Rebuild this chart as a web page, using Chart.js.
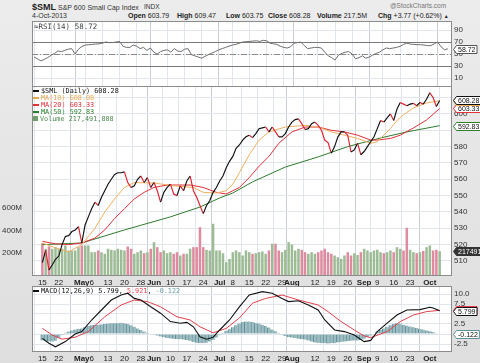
<!DOCTYPE html>
<html><head><meta charset="utf-8">
<script src="https://cdn.jsdelivr.net/npm/chart.js@4.4.0/dist/chart.umd.min.js"></script>
<style>
body{margin:0;width:480px;height:363px;overflow:hidden;background:linear-gradient(#ececec,#dedede);font-family:Arial,"Liberation Sans",sans-serif;position:relative}
canvas{position:absolute;left:0}
.t{position:absolute;white-space:nowrap;color:#222;line-height:1}
.lg{position:absolute;white-space:nowrap;font-family:"DejaVu Sans Mono",monospace;font-size:6.8px;line-height:1}
.sw{display:inline-block;width:6px;height:2px;vertical-align:middle;margin-right:2px}
</style></head><body>

<div class="t" style="left:32px;top:3px;font-size:9px;font-weight:bold">$SML</div>
<div class="t" style="left:58px;top:4px;font-size:7px;color:#333">S&amp;P 600 Small Cap Index</div>
<div class="t" style="left:144px;top:4px;font-size:6.5px;color:#333">INDX</div>
<div class="t" style="left:390px;top:3px;font-size:6.5px;color:#777">@StockCharts.com</div>
<div class="t" style="left:32px;top:12px;font-size:7px;color:#333">4-Oct-2013</div>
<div class="t" style="left:128px;top:12px;font-size:7px"><b>Open</b> 603.79</div>
<div class="t" style="left:177px;top:12px;font-size:7px"><b>High</b> 609.47</div>
<div class="t" style="left:226px;top:12px;font-size:7px"><b>Low</b> 603.75</div>
<div class="t" style="left:268px;top:12px;font-size:7px"><b>Close</b> 608.28</div>
<div class="t" style="left:317px;top:12px;font-size:7px"><b>Volume</b> 217.5M</div>
<div class="t" style="left:378px;top:12px;font-size:7px"><b>Chg</b> +3.77 (+0.62%) <span style="font-size:5px">&#9650;</span></div>

<canvas id="rsi" width="480" height="66" style="top:21px"></canvas>
<canvas id="main" width="480" height="204" style="top:86px"></canvas>
<canvas id="macd" width="480" height="77" style="top:286px"></canvas>

<div class="lg" style="left:34px;top:23px;font-size:7.5px;color:#444">&#8776;RSI(14) 58.72</div>
<div class="lg" style="left:33px;top:88px;color:#111"><span class="sw" style="background:#111"></span>$SML (Daily) 608.28</div>
<div class="lg" style="left:33px;top:95px;color:#e9a94f"><span class="sw" style="background:#e9a94f"></span>MA(10) 608.08</div>
<div class="lg" style="left:33px;top:102px;color:#e3303a"><span class="sw" style="background:#e3303a"></span>MA(20) 603.33</div>
<div class="lg" style="left:33px;top:109px;color:#2f7d2f"><span class="sw" style="background:#2f7d2f"></span>MA(50) 592.83</div>
<div class="lg" style="left:33px;top:116px;color:#4f8a4f"><span style="display:inline-block;width:5px;height:5px;background:#6f9f6a;margin-right:2px"></span>Volume 217,491,808</div>
<div class="lg" style="left:33px;top:288px;color:#111"><span class="sw" style="background:#111"></span>MACD(12,26,9) 5.799, <span style="color:#e5404d">5.921</span>, <span style="color:#6aa0a8">-0.122</span></div>

<script>
// x axis: trading days 15-Apr-2013 .. 4-Oct-2013 (index 0..121)
const tickDays = [0, 5, 12, 15, 20, 25, 30, 34, 39, 44, 49, 54, 58, 63, 68, 73, 76, 83, 88, 93, 98, 102, 107, 112, 118];
const tickText = ['15', '22', 'May', '6', '13', '20', '28', 'Jun', '10', '17', '24', 'Jul', '8', '15', '22', '29', 'Aug', '12', '19', '26', 'Sep', '9', '16', '23', 'Oct'];

const closes = [
  509, 516.5, 504.5, 507.5, 511, 513, 520, 525, 525.5, 528,
  529, 531, 521, 532, 537, 542, 546, 544, 549, 553,
  557, 560, 563, 564, 564, 564.5, 558, 555, 556, 560,
  562, 558, 561, 555, 558, 553, 546, 552, 555, 557,
  551, 550, 556, 553, 559, 562, 553, 549, 544, 539,
  544, 547, 552, 555, 559, 562, 567, 571, 574, 579,
  581, 584, 586, 587, 585.5, 588, 591, 591.5, 592, 589,
  592, 589, 586, 586, 588, 592, 595, 596.5, 597, 594,
  590.5, 591, 594, 595, 593, 590, 584, 582.5, 576, 580,
  586, 589, 589, 587, 576.7, 578, 582, 575, 577, 580,
  583, 586, 591, 596, 595, 597.6, 600, 596, 603, 607,
  606, 605, 606, 606.5, 605, 607, 606, 609, 613, 610,
  604.51, 608.28
];

// volume in millions
const volume = [
  288, 239, 259, 239, 253, 239, 239, 268, 224, 224,
  224, 253, 268, 268, 268, 209, 209, 224, 209, 195,
  239, 230, 224, 239, 230, 224, 259, 239, 195, 209,
  224, 200, 209, 239, 297, 253, 209, 224, 200, 209,
  195, 209, 180, 195, 195, 239, 253, 253, 428, 253,
  230, 224, 458, 224, 224, 200, 121, 150, 209, 224,
  209, 180, 224, 209, 195, 200, 209, 215, 195, 224,
  283, 283, 224, 209, 230, 297, 277, 224, 239, 230,
  209, 195, 209, 195, 209, 224, 239, 209, 195, 180,
  165, 151, 180, 209, 180, 200, 185, 209, 239, 224,
  209, 224, 230, 209, 200, 209, 224, 209, 253, 239,
  224, 423, 230, 209, 200, 209, 220, 253, 268, 224,
  230, 217.49
];

const ma10Days = [0, 4, 8, 12, 16, 19, 22, 25, 28, 34, 40, 46, 49, 53, 56, 58, 60, 63, 66, 69, 74, 80, 84, 88, 92, 96, 100, 102, 104, 106, 108, 110, 113, 117, 121];
const ma10 = [521, 518, 515.5, 520, 530, 540, 548, 555, 558, 557.7, 556, 555, 552, 551.6, 553, 557, 564, 575, 584, 589, 592, 593, 592, 589, 587, 585, 582, 583, 587, 591, 596, 599.5, 603.7, 606.7, 608.08];

const ma20Days = [0, 4, 8, 12, 16, 19, 22, 25, 28, 31, 34, 38, 45, 49, 53, 56, 58, 60, 63, 66, 69, 72, 76, 80, 84, 88, 92, 96, 100, 102, 106, 109, 113, 117, 121];
const ma20 = [522, 520.5, 520, 521, 524, 529, 536, 542, 548, 552, 555, 556.5, 556.5, 555, 552, 551, 553, 555, 561, 568, 574, 582, 589, 592, 592, 590, 589, 587, 584, 584, 585, 587, 591.4, 596.3, 603.33];

const ma50Days = [0, 12, 25, 39, 48, 54, 58, 64, 74, 84, 93, 103, 111, 121];
const ma50 = [520, 521, 529, 537, 543, 548.6, 551.6, 558.4, 567.5, 573.7, 580, 585.3, 589, 592.83];

const rsi = [
  45, 42, 38.5, 41, 44, 48, 51, 55, 54, 56,
  58, 59, 50, 58, 62.7, 65, 65.5, 66, 66.6, 67,
  68, 70, 69, 69, 70, 71, 63, 61, 61, 65,
  63, 59, 61, 56, 60, 53, 50, 54, 56, 57,
  53, 59, 55, 54, 58, 59, 49, 47, 45, 43,
  46, 49, 51.5, 54, 57, 59, 61, 63, 65, 66,
  68, 70, 70.5, 71, 71.5, 72, 71, 72.8, 72, 68,
  67, 66, 63, 61, 60, 62, 68, 69, 70, 64,
  59, 60, 61, 61, 60, 53, 47, 44, 40, 48,
  51, 53, 54, 50, 42, 44, 47, 43, 45, 48,
  51, 53, 57, 60, 59, 60, 61, 62.7, 66, 68,
  66.6, 66, 65.5, 65.5, 65, 64, 64, 67, 70, 62,
  57, 58.72
];

const macdDays = [0, 2, 4, 7, 10, 12, 15, 18, 21, 24, 26, 28, 30, 33, 36, 39, 42, 44, 46, 48, 50, 52, 54, 57, 60, 63, 67, 70, 73, 75, 78, 81, 84, 86, 89, 92, 95, 98, 100, 102, 105, 108, 111, 115, 118, 119, 121];
const macd = [-1.1, -2.3, -3.2, -1.9, 0, 0.6, 3.5, 6, 8.5, 9.75, 10.2, 8.9, 8.5, 6.8, 5.2, 3.1, 2.7, 2.9, 1.8, -0.7, -1.3, -0.8, 1, 3.5, 6.8, 9.75, 10.6, 10.2, 8.9, 8.1, 8.3, 7.25, 6, 3.5, 1, 0.6, -0.25, -1.9, -1.6, 0.6, 2.7, 4.75, 6, 6.1, 6.7, 6.5, 5.799];

const signalDays = [0, 3, 6, 10, 14, 19, 24, 28, 32, 36, 41, 45, 48, 52, 56, 60, 64, 68, 73, 78, 84, 87, 91, 95, 98, 100, 105, 109, 113, 117, 121];
const signal = [1.4, -0.25, -1.3, -0.8, 0.6, 4.3, 7.25, 8.5, 8.1, 6.8, 4.3, 3.5, 1.8, 0.3, 1.4, 4, 7.7, 8.9, 9.75, 8.5, 7.25, 5.6, 3.1, 1, -0.5, -0.9, 0.6, 3.1, 4.75, 5.6, 5.921];

const hist = [
  -1.6, -1.8, -1.9, -1.9, -1.7, -1.0, -0.3, 0.3, 0.6, 0.9,
  1.1, 1.3, 1.4, 1.7, 2.0, 2.2, 2.3, 2.3, 2.4, 2.5,
  2.6, 2.7, 2.7, 2.7, 2.8, 2.7, 2.5, 2.2, 1.8, 1.4,
  1.0, 0.6, 0.3, 0.1, -0.2, -0.4, -0.6, -0.8, -1.0, -1.1,
  -1.2, -1.3, -1.3, -1.4, -1.5, -1.7, -2.0, -2.2, -2.3, -2.3,
  -2.2, -1.9, -1.5, -0.9, -0.3, 0.3, 0.8, 1.2, 1.7, 2.2,
  2.6, 3.0, 3.1, 3.1, 3.0, 2.8, 2.6, 2.3, 2.0, 1.6,
  1.1, 0.7, 0.3, -0.2, -0.5, -0.8, -0.9, -1.0, -1.2, -1.3,
  -1.4, -1.6, -1.9, -2.1, -2.2, -2.3, -2.3, -2.4, -2.3, -2.3,
  -2.1, -2.0, -1.9, -1.8, -1.7, -1.6, -1.6, -1.5, -1.2, -0.8,
  -0.4, 0.1, 0.6, 1.0, 1.4, 1.8, 2.2, 2.5, 2.7, 2.6,
  2.3, 2.1, 1.9, 1.7, 1.5, 1.3, 1.1, 0.9, 0.7, 0.5,
  0.2, -0.122
];

const priceTicks = [510, 520, 530, 540, 550, 560, 570, 580, 590, 600, 610];
const volTicks = [200, 400, 600];
const rsiTicks = [10, 30, 50, 70, 90];
const macdTicks = [-2.5, 0, 2.5, 5, 7.5, 10];

const C = {
  up: '#111111', down: '#e3202c', ma10: '#efb060', ma20: '#e3303a', ma50: '#2f7d2f',
  volUp: '#9dbc96', volDown: '#de8ba0', grid: '#e1e5ec', gridMonth: '#c8cdd6',
  rsi: '#6f6f6f', macd: '#111111', signal: '#e5404d', hist: '#9dbdc2', histEdge: '#5f8f97'
};

const xy = (days, vals) => vals.map((v, i) => ({ x: days[i], y: v }));
const daily = vals => vals.map((v, i) => ({ x: i, y: v }));
const isMonth = v => /[A-Za-z]/.test(tickText[tickDays.indexOf(v)] || '');

const xAxis = (showLabels, h) => ({
  type: 'linear', min: -0.6, max: 122.2,
  afterBuildTicks: ax => { ax.ticks = tickDays.map(v => ({ value: v })); },
  afterFit: ax => { ax.height = h; ax.paddingLeft = 0; ax.paddingRight = 0; },
  ticks: {
    display: showLabels, autoSkip: false, maxRotation: 0, padding: 2, color: '#222',
    font: ctx => ({ family: 'Arial', size: 8, weight: ctx.tick && isMonth(ctx.tick.value) ? 'bold' : 'normal' }),
    callback: (v, i) => tickText[i]
  },
  grid: { drawTicks: false, color: ctx => ctx.tick && isMonth(ctx.tick.value) ? C.gridMonth : C.grid },
  border: { display: false }
});

const yRight = (min, max, ticks, fmt, w) => ({
  position: 'right', min, max,
  afterBuildTicks: ax => { ax.ticks = ticks.map(v => ({ value: v })); },
  afterFit: ax => { ax.width = w; ax.paddingTop = 0; ax.paddingBottom = 0; },
  ticks: { padding: 2, color: '#333', font: { family: 'Arial', size: 8 }, callback: fmt },
  grid: { drawTicks: false, color: C.grid },
  border: { display: false }
});

const framePlugin = {
  id: 'frame',
  beforeDraw(chart) {
    const a = chart.chartArea, c = chart.ctx;
    c.save(); c.fillStyle = '#fff';
    c.fillRect(a.left, a.top, a.right - a.left, a.bottom - a.top);
    c.restore();
  },
  afterDraw(chart) {
    const a = chart.chartArea, c = chart.ctx;
    c.save(); c.strokeStyle = '#8c8c8c'; c.lineWidth = 1;
    c.strokeRect(a.left + 0.5, a.top + 0.5, a.right - a.left - 1, a.bottom - a.top - 1);
    c.restore();
  }
};

// last-value tags on the right axis
const tags = items => ({
  id: 'tags',
  afterDraw(chart) {
    const c = chart.ctx, a = chart.chartArea;
    c.save();
    c.font = '7px Arial';
    items.forEach(it => {
      const y = Math.round(chart.scales[it.axis].getPixelForValue(it.value)) + 0.5;
      const x = a.right + 1.5, h = 8;
      const w = c.measureText(it.text).width + 3;
      c.beginPath();
      c.moveTo(x, y); c.lineTo(x + 3, y - h / 2); c.lineTo(x + 3 + w, y - h / 2);
      c.lineTo(x + 3 + w, y + h / 2); c.lineTo(x + 3, y + h / 2); c.closePath();
      c.fillStyle = it.fill || '#fff'; c.fill();
      c.strokeStyle = it.color; c.lineWidth = 1; c.stroke();
      c.fillStyle = it.textColor || '#111'; c.textBaseline = 'middle';
      c.fillText(it.text, x + 4.5, y + 0.5);
    });
    c.restore();
  }
});

const baseOpts = {
  responsive: false, animation: false, devicePixelRatio: 1,
  plugins: { legend: { display: false }, tooltip: { enabled: false } },
  elements: { point: { radius: 0 }, line: { tension: 0 } }
};

const lastIdx = closes.length - 1;
const nearTag = (v, vals, d) => vals.some(t => Math.abs(t - v) < d);

// ---- main price panel
new Chart(document.getElementById('main'), {
  data: {
    datasets: [
      { type: 'bar', yAxisID: 'yVol', order: 10, data: daily(volume),
        backgroundColor: volume.map((_, i) => i > 0 && closes[i] >= closes[i - 1] ? C.volUp : C.volDown),
        barPercentage: 0.9, categoryPercentage: 0.85 },
      { type: 'line', yAxisID: 'y', order: 4, data: xy(ma50Days, ma50), borderColor: C.ma50, borderWidth: 1 },
      { type: 'line', yAxisID: 'y', order: 3, data: xy(ma20Days, ma20), borderColor: C.ma20, borderWidth: 1 },
      { type: 'line', yAxisID: 'y', order: 2, data: xy(ma10Days, ma10), borderColor: C.ma10, borderWidth: 1 },
      { type: 'line', yAxisID: 'y', order: 1, data: daily(closes), borderColor: C.up, borderWidth: 1.15,
        segment: { borderColor: s => s.p1.parsed.y < s.p0.parsed.y ? C.down : C.up } }
    ]
  },
  options: {
    ...baseOpts,
    scales: {
      x: xAxis(true, 14),
      y: yRight(500.8, 617.1, priceTicks,
        v => nearTag(v, [closes[lastIdx], ma20[ma20.length - 1], ma50[ma50.length - 1]], 3) ? '' : v, 28),
      yVol: {
        position: 'left', min: 0, max: 1667,
        afterBuildTicks: ax => { ax.ticks = volTicks.map(v => ({ value: v })); },
        afterFit: ax => { ax.width = 32; ax.paddingTop = 0; ax.paddingBottom = 0; },
        ticks: { padding: 2, color: '#333', font: { family: 'Arial', size: 8 }, callback: v => v + 'M' },
        grid: { display: false }, border: { display: false }
      }
    }
  },
  plugins: [framePlugin, tags([
    { axis: 'yVol', value: volume[lastIdx], text: '217491808', color: '#333', fill: '#333', textColor: '#fff' },
    { axis: 'y', value: ma50[ma50.length - 1], text: '592.83', color: C.ma50 },
    { axis: 'y', value: ma20[ma20.length - 1], text: '603.33', color: C.ma20 },
    { axis: 'y', value: ma10[ma10.length - 1], text: '608.08', color: C.ma10 },
    { axis: 'y', value: closes[lastIdx], text: '608.28', color: '#111' }
  ])]
});

// ---- RSI panel
const rsiLines = {
  id: 'rsiLines',
  beforeDatasetsDraw(chart) {
    const c = chart.ctx, a = chart.chartArea, s = chart.scales.y;
    c.save(); c.lineWidth = 1;
    [[70, []], [30, []], [50, [6, 2, 1, 2]]].forEach(([v, dash]) => {
      const y = Math.round(s.getPixelForValue(v)) + 0.5;
      c.strokeStyle = v === 50 ? '#8a8a8a' : '#7a7a7a';
      c.setLineDash(dash);
      c.beginPath(); c.moveTo(a.left, y); c.lineTo(a.right, y); c.stroke();
    });
    c.restore();
  }
};

new Chart(document.getElementById('rsi'), {
  type: 'line',
  data: { datasets: [{ data: daily(rsi), borderColor: C.rsi, borderWidth: 1 }] },
  options: {
    ...baseOpts,
    layout: { padding: { left: 32 } },
    scales: {
      x: xAxis(false, 0),
      y: yRight(-5, 105, rsiTicks, v => v, 28)
    }
  },
  plugins: [framePlugin, rsiLines, tags([
    { axis: 'y', value: rsi[lastIdx], text: '58.72', color: '#555' }
  ])]
});

// ---- MACD panel
new Chart(document.getElementById('macd'), {
  data: {
    datasets: [
      { type: 'bar', order: 5, data: daily(hist), backgroundColor: C.hist, borderColor: C.histEdge,
        borderWidth: { left: 1, right: 0, top: 0, bottom: 0 }, barPercentage: 1, categoryPercentage: 1 },
      { type: 'line', order: 2, data: xy(signalDays, signal), borderColor: C.signal, borderWidth: 1 },
      { type: 'line', order: 1, data: xy(macdDays, macd), borderColor: C.macd, borderWidth: 1.1 }
    ]
  },
  options: {
    ...baseOpts,
    layout: { padding: { left: 32 } },
    scales: {
      x: xAxis(true, 11),
      y: yRight(-4.5, 12, macdTicks,
        v => nearTag(v, [macd[macd.length - 1], hist[lastIdx]], 1) ? '' : v.toFixed(1), 28)
    }
  },
  plugins: [framePlugin, tags([
    { axis: 'y', value: signal[signal.length - 1], text: '5.921', color: C.signal },
    { axis: 'y', value: macd[macd.length - 1], text: '5.799', color: '#111' },
    { axis: 'y', value: hist[lastIdx], text: '-0.122', color: C.histEdge }
  ])]
});
</script>
</body></html>
